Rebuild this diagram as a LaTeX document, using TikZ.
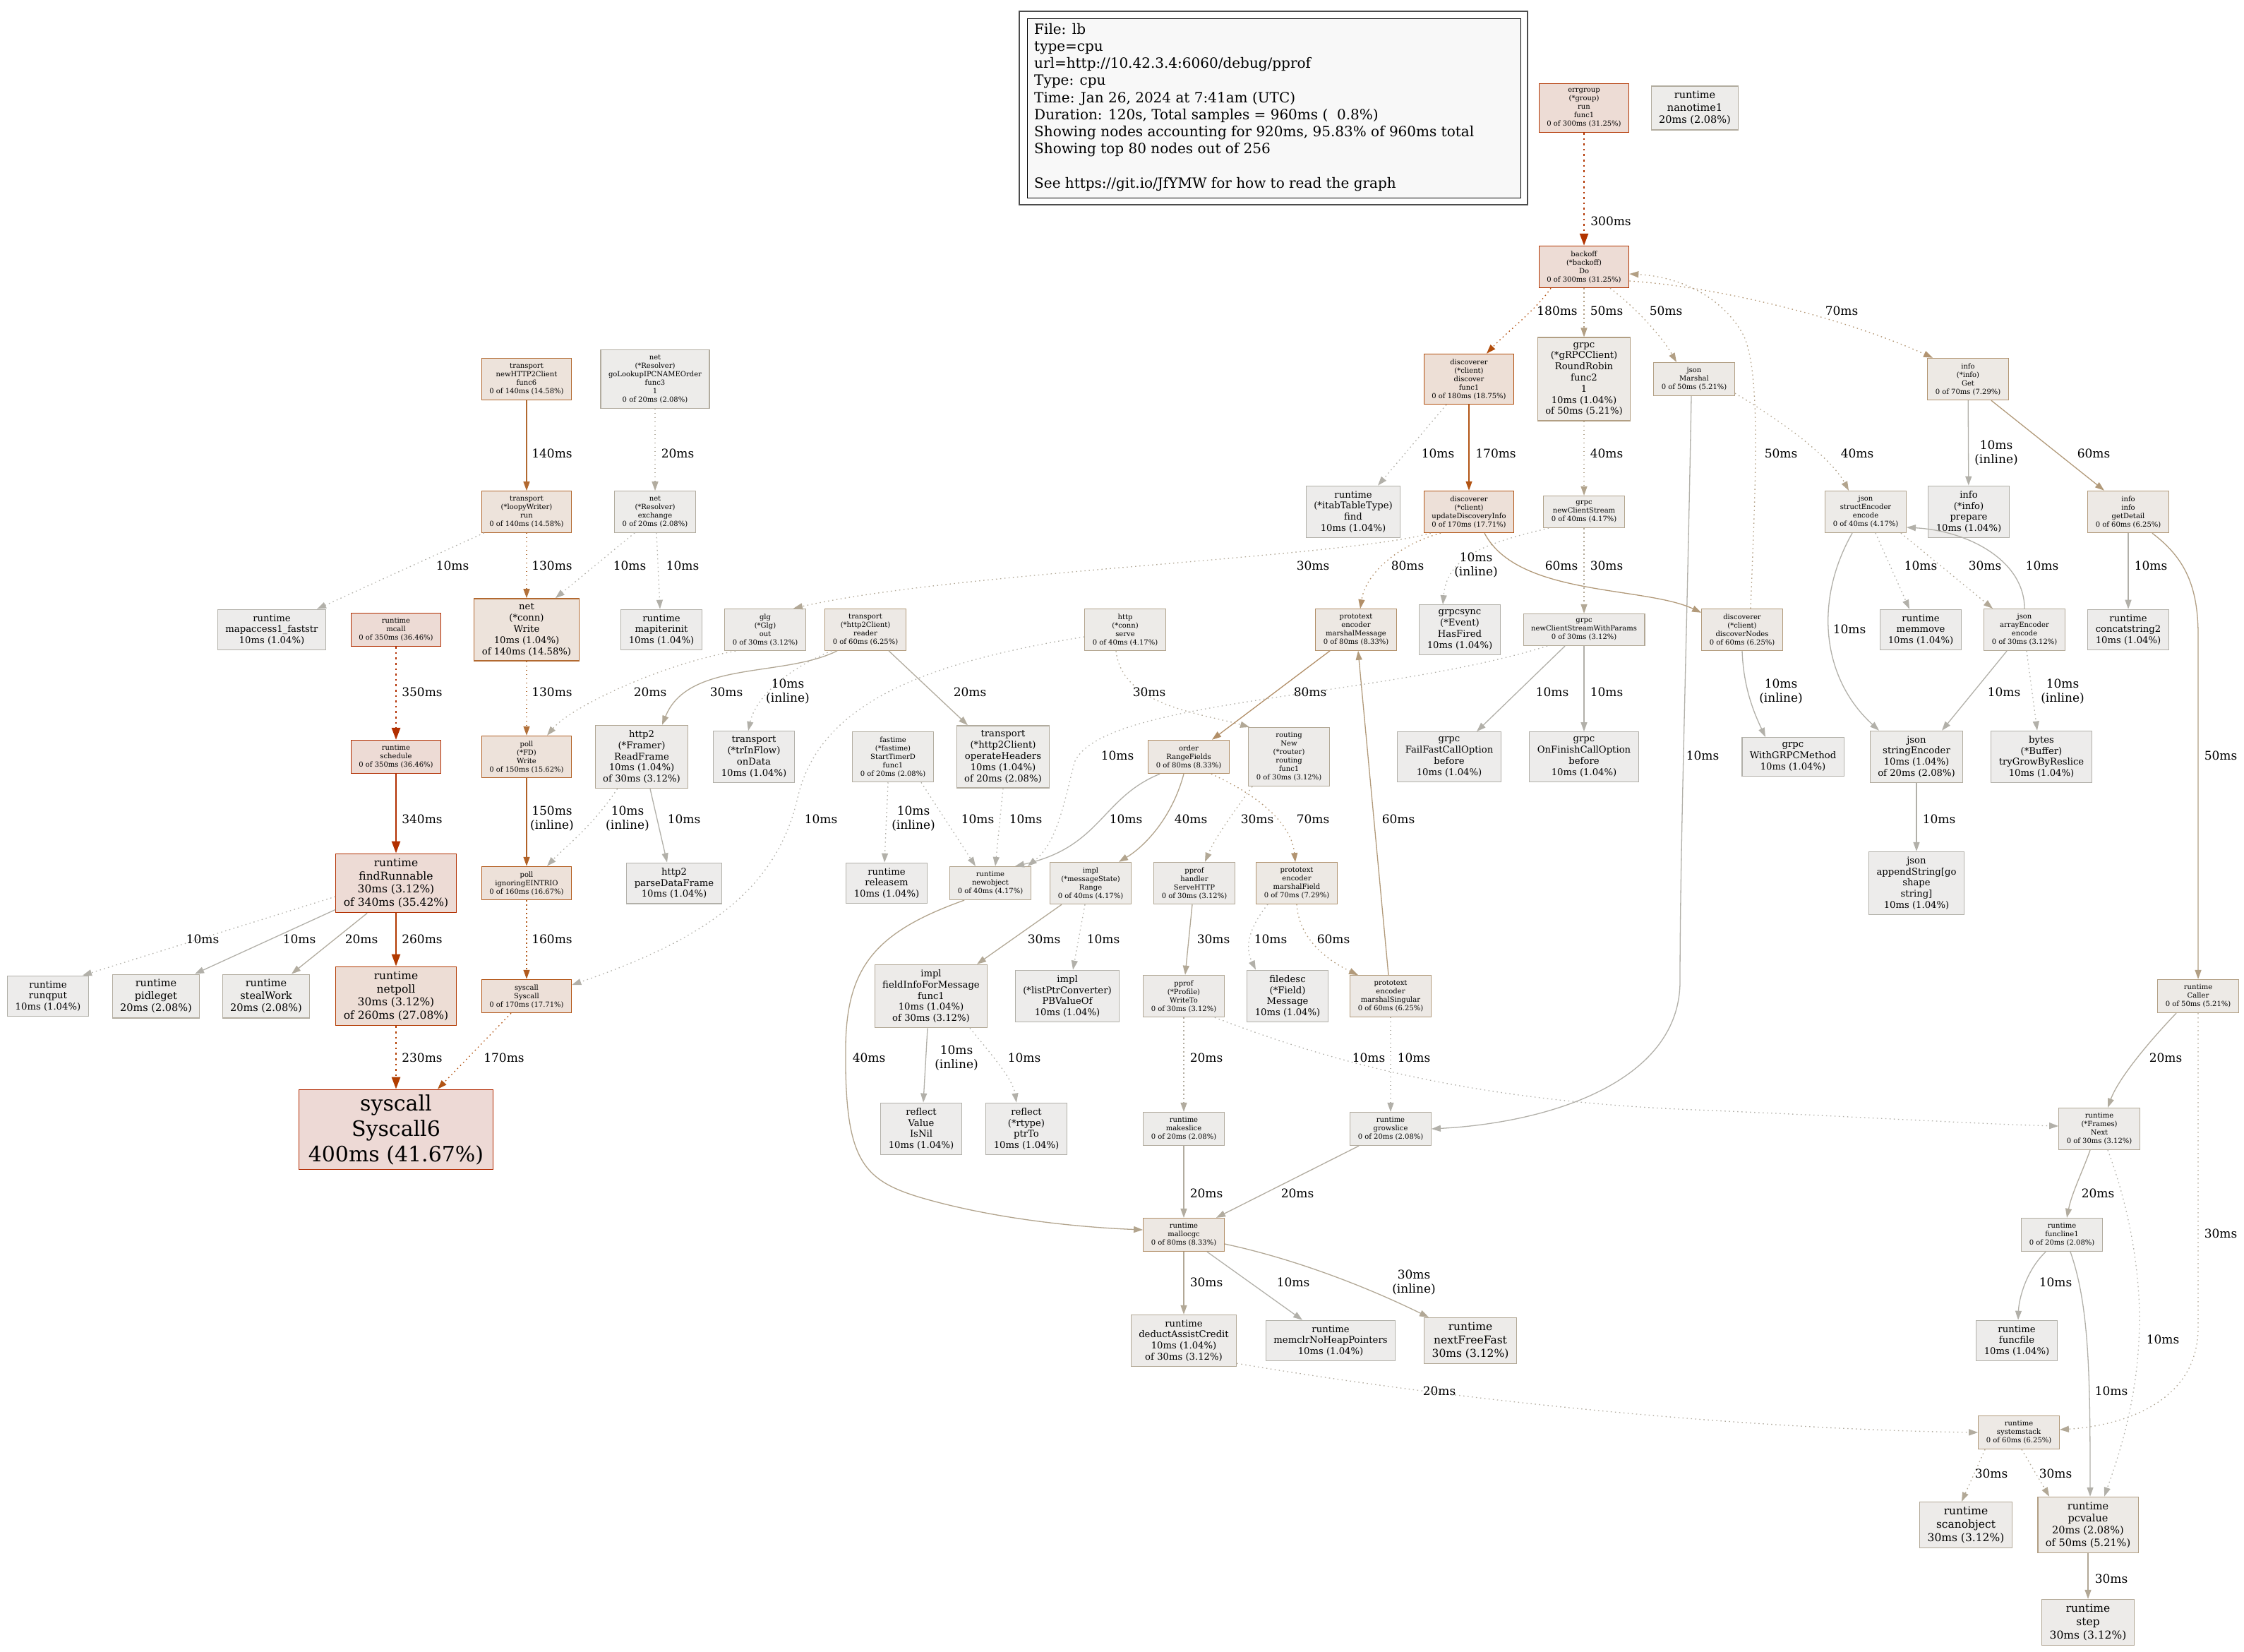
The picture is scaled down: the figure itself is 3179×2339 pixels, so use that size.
\documentclass[tikz,border=0pt]{standalone}
\usepackage{fontspec}
\setmainfont{DejaVu Serif}
\usetikzlibrary{arrows.meta,calc}
\definecolor{f10}{HTML}{B2B0A9}\definecolor{b10}{HTML}{EDECEB}
\definecolor{f20}{HTML}{B2AC9F}\definecolor{b20}{HTML}{EDECEA}
\definecolor{f30}{HTML}{B2A896}\definecolor{b30}{HTML}{EDEBE9}
\definecolor{f40}{HTML}{B2A48D}\definecolor{b40}{HTML}{EDEBE8}
\definecolor{f50}{HTML}{B29F84}\definecolor{b50}{HTML}{EDEAE6}
\definecolor{f60}{HTML}{B29A7A}\definecolor{b60}{HTML}{EDE9E5}
\definecolor{f70}{HTML}{B29471}\definecolor{b70}{HTML}{EDE9E4}
\definecolor{f80}{HTML}{B28F68}\definecolor{b80}{HTML}{EDE8E3}
\definecolor{f130}{HTML}{B27039}
\definecolor{f140}{HTML}{B26930}\definecolor{b140}{HTML}{EDE3DB}
\definecolor{f150}{HTML}{B26227}\definecolor{b150}{HTML}{EDE2DA}
\definecolor{f160}{HTML}{B25B1D}\definecolor{b160}{HTML}{EDE1D9}
\definecolor{f170}{HTML}{B25414}\definecolor{b170}{HTML}{EDE0D8}
\definecolor{f180}{HTML}{B24D0B}\definecolor{b180}{HTML}{EDDFD6}
\definecolor{f230}{HTML}{B23E00}
\definecolor{f260}{HTML}{B23900}\definecolor{b260}{HTML}{EDDDD5}
\definecolor{f300}{HTML}{B23400}\definecolor{b300}{HTML}{EDDCD5}
\definecolor{f340}{HTML}{B22F00}\definecolor{b340}{HTML}{EDDBD5}
\definecolor{f350}{HTML}{B22E00}\definecolor{b350}{HTML}{EDDBD5}
\definecolor{f400}{HTML}{B22900}\definecolor{b400}{HTML}{EDD9D5}
\definecolor{legfill}{HTML}{F8F8F8}
\tikzset{
 box/.style={draw, rectangle, align=center, inner xsep=11pt, inner ysep=7pt, line width=1.3pt},
 n0/.style={box, font=\fontsize{10}{12}\selectfont},
 n10/.style={box, font=\fontsize{13.2}{15.8}\selectfont},
 n20/.style={box, font=\fontsize{14.5}{17.4}\selectfont},
 n30/.style={box, font=\fontsize{15.5}{18.6}\selectfont},
 n400/.style={box, font=\fontsize{30}{36}\selectfont, inner xsep=13pt},
 k10/.style={draw=f10, fill=b10}, k20/.style={draw=f20, fill=b20},
 k30/.style={draw=f30, fill=b30}, k40/.style={draw=f40, fill=b40},
 k50/.style={draw=f50, fill=b50}, k60/.style={draw=f60, fill=b60},
 k70/.style={draw=f70, fill=b70}, k80/.style={draw=f80, fill=b80},
 k140/.style={draw=f140, fill=b140}, k150/.style={draw=f150, fill=b150},
 k160/.style={draw=f160, fill=b160}, k170/.style={draw=f170, fill=b170},
 k180/.style={draw=f180, fill=b180}, k260/.style={draw=f260, fill=b260},
 k300/.style={draw=f300, fill=b300}, k340/.style={draw=f340, fill=b340},
 k350/.style={draw=f350, fill=b350}, k400/.style={draw=f400, fill=b400},
 e/.style={line width=1.3pt, -{Triangle[length=13pt,width=9pt]}},
 ethick/.style={line width=2.6pt, -{Triangle[length=17pt,width=12pt]}},
 dots/.style={dash pattern=on 1.5pt off 4.5pt},
 dotsthick/.style={dash pattern=on 2.6pt off 5pt},
 el/.style={font=\fontsize{17}{20}\selectfont, align=center, inner sep=0pt},
 legendtext/.style={align=left, inner sep=0pt, font=\fontsize{20}{24.2}\selectfont},
}
\begin{document}
\begin{tikzpicture}[x=1pt,y=-1pt]
\fill[white] (0,0) rectangle (3179,2339);
\useasboundingbox (0,0) rectangle (3179,2339);
% legend
\fill[legfill] (1455,27) rectangle (2154,280);
\draw[line width=1.1pt, black!70] (1444,16) rectangle (2164,290);
\draw[line width=1.0pt, black] (1455,27) rectangle (2154,280);
\node[legendtext, anchor=north west] (legend) at (1465,33) {File: lb\\type=cpu\\url=http://10.42.3.4:6060/debug/pprof\\Type: cpu\\Time: Jan 26, 2024 at 7:41am (UTC)\\Duration: 120s, Total samples = 960ms (~~0.8\%)\\Showing nodes accounting for 920ms, 95.83\% of 960ms total\\Showing top 80 nodes out of 256\\\mbox{}\\See https://git.io/JfYMW for how to read the graph};
% R0
\node[n0,k300] (errg) at (2244,153) {errgroup\\(*group)\\run\\func1\\0 of 300ms (31.25\%)};
\node[n20,k20] (nano) at (2401,153) {runtime\\nanotime1\\20ms (2.08\%)};
% R1
\node[n0,k300] (backoff) at (2244,378) {backoff\\(*backoff)\\Do\\0 of 300ms (31.25\%)};
% R2
\node[n0,k140] (h2c) at (746,537) {transport\\newHTTP2Client\\func6\\0 of 140ms (14.58\%)};
\node[n0,k20] (golookup) at (928,537) {net\\(*Resolver)\\goLookupIPCNAMEOrder\\func3\\1\\0 of 20ms (2.08\%)};
\node[n0,k180] (discf1) at (2081,537) {discoverer\\(*client)\\discover\\func1\\0 of 180ms (18.75\%)};
\node[n10,k50] (rr) at (2244,537) {grpc\\(*gRPCClient)\\RoundRobin\\func2\\1\\10ms (1.04\%)\\of 50ms (5.21\%)};
\node[n0,k50] (marshal) at (2400,537) {json\\Marshal\\0 of 50ms (5.21\%)};
\node[n0,k70] (infoget) at (2788,537) {info\\(*info)\\Get\\0 of 70ms (7.29\%)};
% R3
\node[n0,k140] (loopy) at (746,725) {transport\\(*loopyWriter)\\run\\0 of 140ms (14.58\%)};
\node[n0,k20] (exchange) at (928,725) {net\\(*Resolver)\\exchange\\0 of 20ms (2.08\%)};
\node[n10,k10] (itab) at (1917,725) {runtime\\(*itabTableType)\\find\\10ms (1.04\%)};
\node[n0,k170] (udi) at (2081,725) {discoverer\\(*client)\\updateDiscoveryInfo\\0 of 170ms (17.71\%)};
\node[n0,k40] (ncs) at (2244,725) {grpc\\newClientStream\\0 of 40ms (4.17\%)};
\node[n0,k40] (structenc) at (2643,725) {json\\structEncoder\\encode\\0 of 40ms (4.17\%)};
\node[n10,k10] (prepare) at (2789,725) {info\\(*info)\\prepare\\10ms (1.04\%)};
\node[n0,k60] (getdetail) at (3015,725) {info\\info\\getDetail\\0 of 60ms (6.25\%)};
% R4
\node[n10,k10] (mapaccess) at (385,892) {runtime\\mapaccess1\_faststr\\10ms (1.04\%)};
\node[n0,k350] (mcall) at (561,892) {runtime\\mcall\\0 of 350ms (36.46\%)};
\node[n10,k140] (connwrite) at (746,892) {net\\(*conn)\\Write\\10ms (1.04\%)\\of 140ms (14.58\%)};
\node[n10,k10] (mapiterinit) at (937,892) {runtime\\mapiterinit\\10ms (1.04\%)};
\node[n0,k30] (glg) at (1084,892) {glg\\(*Glg)\\out\\0 of 30ms (3.12\%)};
\node[n0,k60] (reader) at (1226,892) {transport\\(*http2Client)\\reader\\0 of 60ms (6.25\%)};
\node[n0,k40] (serve) at (1594,892) {http\\(*conn)\\serve\\0 of 40ms (4.17\%)};
\node[n0,k80] (marshalmsg) at (1921,892) {prototext\\encoder\\marshalMessage\\0 of 80ms (8.33\%)};
\node[n10,k10] (hasfired) at (2068,892) {grpcsync\\(*Event)\\HasFired\\10ms (1.04\%)};
\node[n0,k30] (ncswp) at (2244,892) {grpc\\newClientStreamWithParams\\0 of 30ms (3.12\%)};
\node[n0,k60] (discnodes) at (2468,892) {discoverer\\(*client)\\discoverNodes\\0 of 60ms (6.25\%)};
\node[n10,k10] (memmove) at (2721,892) {runtime\\memmove\\10ms (1.04\%)};
\node[n0,k30] (arrayenc) at (2868,892) {json\\arrayEncoder\\encode\\0 of 30ms (3.12\%)};
\node[n10,k10] (concat) at (3015,892) {runtime\\concatstring2\\10ms (1.04\%)};
% R5
\node[n0,k350] (schedule) at (561,1072) {runtime\\schedule\\0 of 350ms (36.46\%)};
\node[n0,k150] (fdwrite) at (746,1072) {poll\\(*FD)\\Write\\0 of 150ms (15.62\%)};
\node[n10,k30] (readframe) at (909,1072) {http2\\(*Framer)\\ReadFrame\\10ms (1.04\%)\\of 30ms (3.12\%)};
\node[n10,k10] (ondata) at (1068,1072) {transport\\(*trInFlow)\\onData\\10ms (1.04\%)};
\node[n0,k20] (starttimer) at (1265,1072) {fastime\\(*fastime)\\StartTimerD\\func1\\0 of 20ms (2.08\%)};
\node[n10,k20] (opheaders) at (1421,1072) {transport\\(*http2Client)\\operateHeaders\\10ms (1.04\%)\\of 20ms (2.08\%)};
\node[n0,k80] (rangefields) at (1684,1072) {order\\RangeFields\\0 of 80ms (8.33\%)};
\node[n0,k30] (routing) at (1826,1072) {routing\\New\\(*router)\\routing\\func1\\0 of 30ms (3.12\%)};
\node[n10,k10] (failfast) at (2053,1072) {grpc\\FailFastCallOption\\before\\10ms (1.04\%)};
\node[n10,k10] (onfinish) at (2244,1072) {grpc\\OnFinishCallOption\\before\\10ms (1.04\%)};
\node[n10,k10] (withgrpc) at (2540,1072) {grpc\\WithGRPCMethod\\10ms (1.04\%)};
\node[n10,k20] (stringenc) at (2715,1072) {json\\stringEncoder\\10ms (1.04\%)\\of 20ms (2.08\%)};
\node[n10,k10] (trygrow) at (2892,1072) {bytes\\(*Buffer)\\tryGrowByReslice\\10ms (1.04\%)};
% R6
\node[n30,k340] (findrun) at (561,1251) {runtime\\findRunnable\\30ms (3.12\%)\\of 340ms (35.42\%)};
\node[n0,k160] (eintr) at (746,1251) {poll\\ignoringEINTRIO\\0 of 160ms (16.67\%)};
\node[n10,k10] (parsedata) at (955,1251) {http2\\parseDataFrame\\10ms (1.04\%)};
\node[n10,k10] (releasem) at (1256,1251) {runtime\\releasem\\10ms (1.04\%)};
\node[n0,k40] (newobject) at (1403,1251) {runtime\\newobject\\0 of 40ms (4.17\%)};
\node[n0,k40] (range) at (1545,1251) {impl\\(*messageState)\\Range\\0 of 40ms (4.17\%)};
\node[n0,k30] (servehttp) at (1692,1251) {pprof\\handler\\ServeHTTP\\0 of 30ms (3.12\%)};
\node[n0,k70] (marshalfield) at (1837,1251) {prototext\\encoder\\marshalField\\0 of 70ms (7.29\%)};
\node[n10,k10] (appendstr) at (2715,1251) {json\\appendString[go\\shape\\string]\\10ms (1.04\%)};
% R7
\node[n10,k10] (runqput) at (68,1411) {runtime\\runqput\\10ms (1.04\%)};
\node[n20,k20] (pidleget) at (221,1411) {runtime\\pidleget\\20ms (2.08\%)};
\node[n20,k20] (stealwork) at (377,1411) {runtime\\stealWork\\20ms (2.08\%)};
\node[n30,k260] (netpoll) at (561,1411) {runtime\\netpoll\\30ms (3.12\%)\\of 260ms (27.08\%)};
\node[n0,k170] (syscall) at (746,1411) {syscall\\Syscall\\0 of 170ms (17.71\%)};
\node[n10,k30] (fieldinfo) at (1319,1411) {impl\\fieldInfoForMessage\\func1\\10ms (1.04\%)\\of 30ms (3.12\%)};
\node[n10,k10] (listptr) at (1512,1411) {impl\\(*listPtrConverter)\\PBValueOf\\10ms (1.04\%)};
\node[n0,k30] (writeto) at (1677,1411) {pprof\\(*Profile)\\WriteTo\\0 of 30ms (3.12\%)};
\node[n10,k10] (filedesc) at (1824,1411) {filedesc\\(*Field)\\Message\\10ms (1.04\%)};
\node[n0,k60] (marshalsing) at (1970,1411) {prototext\\encoder\\marshalSingular\\0 of 60ms (6.25\%)};
\node[n0,k50] (caller) at (3114,1411) {runtime\\Caller\\0 of 50ms (5.21\%)};
% R8
\node[n400,k400] (syscall6) at (561,1600) {syscall\\Syscall6\\400ms (41.67\%)};
\node[n10,k10] (isnil) at (1305,1599) {reflect\\Value\\IsNil\\10ms (1.04\%)};
\node[n10,k10] (ptrto) at (1454,1599) {reflect\\(*rtype)\\ptrTo\\10ms (1.04\%)};
\node[n0,k20] (makeslice) at (1677,1599) {runtime\\makeslice\\0 of 20ms (2.08\%)};
\node[n0,k20] (growslice) at (1970,1599) {runtime\\growslice\\0 of 20ms (2.08\%)};
\node[n0,k30] (framesnext) at (2974,1599) {runtime\\(*Frames)\\Next\\0 of 30ms (3.12\%)};
% R9
\node[n0,k80] (mallocgc) at (1677,1749) {runtime\\mallocgc\\0 of 80ms (8.33\%)};
\node[n0,k20] (funcline1) at (2921,1749) {runtime\\funcline1\\0 of 20ms (2.08\%)};
% R10
\node[n10,k30] (deduct) at (1677,1899) {runtime\\deductAssistCredit\\10ms (1.04\%)\\of 30ms (3.12\%)};
\node[n10,k10] (memclr) at (1885,1899) {runtime\\memclrNoHeapPointers\\10ms (1.04\%)};
\node[n30,k30] (nextfree) at (2083,1899) {runtime\\nextFreeFast\\30ms (3.12\%)};
\node[n10,k10] (funcfile) at (2857,1899) {runtime\\funcfile\\10ms (1.04\%)};
% R11-13
\node[n0,k60] (systemstack) at (2860,2029) {runtime\\systemstack\\0 of 60ms (6.25\%)};
\node[n30,k30] (scanobject) at (2785,2160) {runtime\\scanobject\\30ms (3.12\%)};
\node[n20,k50] (pcvalue) at (2958,2160) {runtime\\pcvalue\\20ms (2.08\%)\\of 50ms (5.21\%)};
\node[n30,k30] (step) at (2958,2298) {runtime\\step\\30ms (3.12\%)};
% ---------------- edges
\draw[ethick,f300,dotsthick] (errg) -- (backoff);
\draw[e,f180,dots] ($(backoff.south)+(-47,0)$) .. controls (2175,440) and (2135,470) .. ($(discf1.north)+(25,0)$);
\draw[e,f50,dots] (backoff) -- (rr);
\draw[e,f50,dots] ($(backoff.south)+(37,0)$) .. controls (2310,430) and (2350,470) .. ($(marshal.north)+(-25,0)$);
\draw[e,f70,dots] ($(backoff.east)+(0,20)$) .. controls (2420,405) and (2600,445) .. ($(infoget.north west)+(8,0)$);
\draw[e,f50,dots] ($(discnodes.north)+(12,0)$) .. controls (2486,700) and (2496,530) .. (2470,475) .. controls (2440,420) and (2380,392) .. ($(backoff.east)+(0,10)$);
\draw[e,f10,dots] ($(discf1.south)+(-32,0)$) -- ($(itab.north)+(35,0)$);
\draw[e,f170] (discf1) -- (udi);
\draw[e,f40,dots] (rr) -- (ncs);
\draw[e,f40,dots] ($(marshal.south east)+(0,-4)$) .. controls (2530,600) and (2595,650) .. ($(structenc.north)+(-24,0)$);
\draw[e,f10] ($(marshal.south)+(-4,0)$) .. controls (2390,900) and (2380,1200) .. (2380,1390) .. controls (2380,1530) and (2200,1590) .. (growslice.east);
\draw[e,f10] (infoget) -- (prepare);
\draw[e,f60] ($(infoget.south east)+(-25,0)$) -- ($(getdetail.north)+(-34,0)$);
\draw[e,f10] (getdetail) -- (concat);
\draw[e,f50] ($(getdetail.south east)+(-24,0)$) .. controls (3095,790) and (3114,830) .. (3114,900) -- (caller.north);
\draw[e,f10,dots] ($(structenc.south)+(14,0)$) -- ($(memmove.north)+(-16,0)$);
\draw[e,f30,dots] ($(structenc.south east)+(-8,0)$) -- ($(arrayenc.north)+(-45,0)$);
\draw[e,f10] ($(structenc.south)+(-19,0)$) .. controls (2570,850) and (2580,960) .. ($(stringenc.north)+(-53,0)$);
\draw[e,f10] (arrayenc.north) .. controls (2868,795) and (2790,752) .. ($(structenc.east)+(0,22)$);
\draw[e,f10] ($(arrayenc.south)+(-25,0)$) -- ($(stringenc.north)+(36,0)$);
\draw[e,f10,dots] ($(arrayenc.south)+(3,0)$) -- ($(trygrow.north)+(-6,0)$);
\draw[e,f10] (stringenc) -- (appendstr);
\draw[e,f30,dots] ($(udi.south west)+(10,0)$) .. controls (1900,790) and (1350,810) .. ($(glg.north)+(40,0)$);
\draw[e,f80,dots] ($(udi.south)+(-40,0)$) .. controls (1985,770) and (1935,810) .. ($(marshalmsg.north)+(6,0)$);
\draw[e,f10,dots] ($(ncs.south west)+(8,0)$) .. controls (2100,770) and (2050,790) .. ($(hasfired.north)+(-24,0)$);
\draw[e,f60] ($(udi.south)+(22,0)$) .. controls (2150,845) and (2330,830) .. ($(discnodes.north west)+(0,6)$);
\draw[e,f30,dots] (ncs) -- (ncswp);
\draw[e,f10] ($(ncswp.south)+(-27,0)$) -- ($(failfast.north)+(39,0)$);
\draw[e,f10] (ncswp) -- (onfinish);
\draw[e,f10,dots] ($(ncswp.south)+(-52,0)$) .. controls (1950,990) and (1560,990) .. (1522,1080) .. controls (1505,1150) and (1495,1195) .. ($(newobject.north east)+(-5,0)$);
\draw[e,f10] (discnodes.south) .. controls (2470,975) and (2485,1010) .. ($(withgrpc.north)+(-39,0)$);
\draw[e,f140] (h2c) -- (loopy);
\draw[e,f10,dots] ($(loopy.south west)+(4,0)$) -- ($(mapaccess.north)+(64,0)$);
\draw[e,f130,dots] (loopy) -- (connwrite);
\draw[e,f20,dots] (golookup) -- (exchange);
\draw[e,f10,dots] ($(exchange.south west)+(29,0)$) -- ($(connwrite.north east)+(-34,0)$);
\draw[e,f10,dots] ($(exchange.south)+(2,0)$) -- ($(mapiterinit.north)+(-2,0)$);
\draw[e,f130,dots] (connwrite) -- (fdwrite);
\draw[e,f20,dots] ($(glg.south)+(-42,0)$) .. controls (940,940) and (810,1000) .. ($(fdwrite.north)+(29,0)$);
\draw[ethick,f350,dotsthick] (mcall) -- (schedule);
\draw[ethick,f340] (schedule) -- (findrun);
\draw[e,f150] (fdwrite) -- (eintr);
\draw[e,f10,dots] ($(readframe.south west)+(32,0)$) .. controls (840,1170) and (800,1200) .. ($(eintr.north)+(29,0)$);
\draw[e,f10] ($(readframe.south)+(12,0)$) -- ($(parsedata.north)+(-10,0)$);
\draw[e,f30] ($(reader.south west)+(18,0)$) .. controls (1110,960) and (975,935) .. ($(readframe.north)+(29,0)$);
\draw[e,f10,dots] ($(reader.south west)+(10,0)$) .. controls (1110,950) and (1070,990) .. ($(ondata.north)+(-8,0)$);
\draw[e,f20] ($(reader.south)+(33,0)$) -- ($(opheaders.north)+(-50,0)$);
\draw[e,f10,dots] ($(serve.west)+(0,10)$) .. controls (1300,940) and (1160,1000) .. (1130,1130) .. controls (1100,1260) and (1000,1330) .. ($(syscall.east)+(0,-16)$);
\draw[e,f30,dots] ($(serve.south)+(-13,0)$) .. controls (1590,1000) and (1700,1010) .. ($(routing.north west)+(2,0)$);
\draw[e,f10,dots] ($(starttimer.south)+(-7,0)$) -- ($(releasem.north)+(-3,0)$);
\draw[e,f10,dots] ($(starttimer.south)+(40,0)$) -- ($(newobject.north)+(-21,0)$);
\draw[e,f10,dots] (opheaders.south) -- ($(newobject.north)+(7,0)$);
\draw[e,f10] ($(rangefields.south west)+(17,0)$) .. controls (1560,1130) and (1560,1200) .. ($(newobject.north)+(35,0)$);
\draw[e,f40] ($(rangefields.south)+(-7,0)$) .. controls (1660,1160) and (1620,1200) .. ($(range.north)+(40,0)$);
\draw[e,f70,dots] ($(rangefields.south east)+(-26,0)$) .. controls (1790,1130) and (1830,1170) .. ($(marshalfield.north)+(-2,0)$);
\draw[e,f30,dots] ($(routing.south west)+(6,0)$) .. controls (1740,1160) and (1720,1190) .. ($(servehttp.north)+(15,0)$);
\draw[e,f80] ($(marshalmsg.south west)+(21,0)$) -- ($(rangefields.north)+(33,0)$);
\draw[e,f60] ($(marshalsing.north)+(-3,0)$) -- ($(marshalmsg.south)+(3,0)$);
\draw[e,f10,dots] ($(marshalfield.south)+(-41,0)$) .. controls (1765,1320) and (1765,1345) .. ($(filedesc.north)+(-45,0)$);
\draw[e,f60,dots] (marshalfield.south) .. controls (1840,1330) and (1880,1360) .. ($(marshalsing.north)+(-46,0)$);
\draw[e,f30] ($(servehttp.south)+(-3,0)$) -- ($(writeto.north)+(2,0)$);
\draw[e,f10,dots] ($(findrun.west)+(0,19)$) -- ($(runqput.north)+(49,0)$);
\draw[e,f10] ($(findrun.south west)+(0,-5)$) -- ($(pidleget.north)+(55,0)$);
\draw[e,f20] ($(findrun.south west)+(45,0)$) -- ($(stealwork.north)+(36,0)$);
\draw[ethick,f260] (findrun) -- (netpoll);
\draw[e,f160,dots] (eintr) -- (syscall);
\draw[ethick,f230,dotsthick] (netpoll) -- (syscall6);
\draw[e,f170,dots] ($(syscall.south)+(-22,0)$) -- ($(syscall6.north)+(59,0)$);
\draw[e,f30] ($(range.south)+(-41,0)$) -- ($(fieldinfo.north)+(65,0)$);
\draw[e,f10,dots] ($(range.south)+(-8,0)$) -- ($(listptr.north)+(8,0)$);
\draw[e,f10] ($(fieldinfo.south)+(-5,0)$) -- ($(isnil.north)+(3,0)$);
\draw[e,f10,dots] ($(fieldinfo.south)+(55,0)$) .. controls (1410,1500) and (1435,1530) .. ($(ptrto.north)+(-14,0)$);
\draw[e,f40] ($(newobject.south west)+(21,0)$) .. controls (1240,1320) and (1200,1370) .. (1198,1480) .. controls (1196,1640) and (1220,1670) .. (1300,1695) .. controls (1400,1725) and (1520,1738) .. ($(mallocgc.west)+(0,-7)$);
\draw[e,f20,dots] (writeto) -- (makeslice);
\draw[e,f10,dots] ($(writeto.south east)+(-14,0)$) .. controls (1900,1510) and (2100,1560) .. (2400,1572) .. controls (2600,1580) and (2800,1592) .. ($(framesnext.west)+(0,-4)$);
\draw[e,f10,dots] (marshalsing) -- (growslice);
\draw[e,f20] ($(caller.south)+(-31,0)$) .. controls (3040,1480) and (3000,1530) .. ($(framesnext.north)+(12,0)$);
\draw[e,f30,dots] (caller.south) -- (3114,1880) .. controls (3114,1990) and (3000,2020) .. ($(systemstack.east)+(0,-4)$);
\draw[e,f20] (makeslice) -- (mallocgc);
\draw[e,f20] ($(growslice.south west)+(13,0)$) -- ($(mallocgc.north east)+(-12,0)$);
\draw[e,f30] (mallocgc) -- (deduct);
\draw[e,f10] ($(mallocgc.south)+(33,0)$) -- ($(memclr.north)+(-40,0)$);
\draw[e,f30] ($(mallocgc.east)+(0,13)$) .. controls (1820,1780) and (1920,1815) .. ($(nextfree.north west)+(7,0)$);
\draw[e,f20,dots] ($(deduct.south east)+(0,-5)$) .. controls (2100,1990) and (2500,2025) .. (systemstack.west);
\draw[e,f20] ($(framesnext.south)+(-13,0)$) .. controls (2950,1660) and (2935,1690) .. ($(funcline1.north)+(7,0)$);
\draw[e,f10,dots] ($(framesnext.south)+(12,0)$) .. controls (3020,1720) and (3035,1820) .. (3030,1900) .. controls (3025,2000) and (2995,2080) .. ($(pcvalue.north)+(23,0)$);
\draw[e,f10] ($(funcline1.south west)+(35,0)$) .. controls (2870,1800) and (2860,1840) .. ($(funcfile.north)+(2,0)$);
\draw[e,f10] ($(funcline1.south)+(12,0)$) .. controls (2960,1850) and (2961,1950) .. ($(pcvalue.north)+(3,0)$);
\draw[e,f30,dots] ($(systemstack.south west)+(10,0)$) -- ($(scanobject.north)+(-6,0)$);
\draw[e,f30,dots] ($(systemstack.south)+(4,0)$) -- ($(pcvalue.north west)+(17,0)$);
\draw[e,f30] (pcvalue) -- (step);
% ---------------- labels
\node[el] (l1) at (2282,313) {300ms};
\node[el] (l2) at (2206,440) {180ms};
\node[el] (l3) at (2276,440) {50ms};
\node[el] (l4) at (2360,440) {50ms};
\node[el] (l5) at (2609,440) {70ms};
\node[el] (l6) at (2037,642) {10ms};
\node[el] (l7) at (2119,642) {170ms};
\node[el] (l8) at (2276,642) {40ms};
\node[el] (l9) at (2523,642) {50ms};
\node[el] (l10) at (2631,642) {40ms};
\node[el] (l11) at (2828,642) {10ms\\(inline)};
\node[el] (l12) at (2966,642) {60ms};
\node[el] (l13) at (782,642) {140ms};
\node[el] (l14) at (960,642) {20ms};
\node[el] (l15) at (641,801) {10ms};
\node[el] (l16) at (782,801) {130ms};
\node[el] (l17) at (892,801) {10ms};
\node[el] (l18) at (967,801) {10ms};
\node[el] (l19) at (1860,801) {30ms};
\node[el] (l20) at (1994,801) {80ms};
\node[el] (l21) at (2091,801) {10ms\\(inline)};
\node[el] (l22) at (2212,801) {60ms};
\node[el] (l23) at (2276,801) {30ms};
\node[el] (l24) at (2721,801) {10ms};
\node[el] (l25) at (2812,801) {30ms};
\node[el] (l26) at (2893,801) {10ms};
\node[el] (l27) at (3047,801) {10ms};
\node[el] (l28) at (2620,891) {10ms};
\node[el] (l29) at (598,980) {350ms};
\node[el] (l30) at (782,980) {130ms};
\node[el] (l31) at (921,980) {20ms};
\node[el] (l32) at (1029,980) {30ms};
\node[el] (l33) at (1116,980) {10ms\\(inline)};
\node[el] (l34) at (1374,980) {20ms};
\node[el] (l35) at (1628,980) {30ms};
\node[el] (l36) at (1856,980) {80ms};
\node[el] (l37) at (2199,980) {10ms};
\node[el] (l38) at (2276,980) {10ms};
\node[el] (l39) at (2523,980) {10ms\\(inline)};
\node[el] (l40) at (2839,980) {10ms};
\node[el] (l41) at (2922,980) {10ms\\(inline)};
\node[el] (l42) at (1583,1070) {10ms};
\node[el] (l43) at (2412,1070) {10ms};
\node[el] (l44) at (3146,1070) {50ms};
\node[el] (l45) at (598,1160) {340ms};
\node[el] (l46) at (782,1160) {150ms\\(inline)};
\node[el] (l47) at (889,1160) {10ms\\(inline)};
\node[el] (l48) at (969,1160) {10ms};
\node[el] (l49) at (1163,1160) {10ms};
\node[el] (l50) at (1294,1160) {10ms\\(inline)};
\node[el] (l51) at (1385,1160) {10ms};
\node[el] (l52) at (1453,1160) {10ms};
\node[el] (l53) at (1595,1160) {10ms};
\node[el] (l54) at (1687,1160) {40ms};
\node[el] (l55) at (1781,1160) {30ms};
\node[el] (l56) at (1860,1160) {70ms};
\node[el] (l57) at (1981,1160) {60ms};
\node[el] (l58) at (2747,1160) {10ms};
\node[el] (l59) at (287,1330) {10ms};
\node[el] (l60) at (424,1330) {10ms};
\node[el] (l61) at (512,1330) {20ms};
\node[el] (l62) at (598,1330) {260ms};
\node[el] (l63) at (782,1330) {160ms};
\node[el] (l64) at (1479,1330) {30ms};
\node[el] (l65) at (1563,1330) {10ms};
\node[el] (l66) at (1719,1330) {30ms};
\node[el] (l67) at (1800,1330) {10ms};
\node[el] (l68) at (1889,1330) {60ms};
\node[el] (l69) at (598,1498) {230ms};
\node[el] (l70) at (714,1498) {170ms};
\node[el] (l71) at (1355,1498) {10ms\\(inline)};
\node[el] (l72) at (1451,1498) {10ms};
\node[el] (l73) at (1231,1498) {40ms};
\node[el] (l74) at (1709,1498) {20ms};
\node[el] (l75) at (1939,1498) {10ms};
\node[el] (l76) at (2003,1498) {10ms};
\node[el] (l77) at (3068,1498) {20ms};
\node[el] (l78) at (1709,1690) {20ms};
\node[el] (l79) at (1838,1690) {20ms};
\node[el] (l80) at (2972,1690) {20ms};
\node[el] (l81) at (3146,1747) {30ms};
\node[el] (l82) at (1709,1816) {30ms};
\node[el] (l83) at (1832,1816) {10ms};
\node[el] (l84) at (2003,1816) {30ms\\(inline)};
\node[el] (l85) at (2912,1816) {10ms};
\node[el] (l86) at (3064,1897) {10ms};
\node[el] (l87) at (2039,1970) {20ms};
\node[el] (l88) at (2991,1970) {10ms};
\node[el] (l89) at (2821,2087) {30ms};
\node[el] (l90) at (2912,2087) {30ms};
\node[el] (l91) at (2991,2236) {30ms};
\end{tikzpicture}
\end{document}
